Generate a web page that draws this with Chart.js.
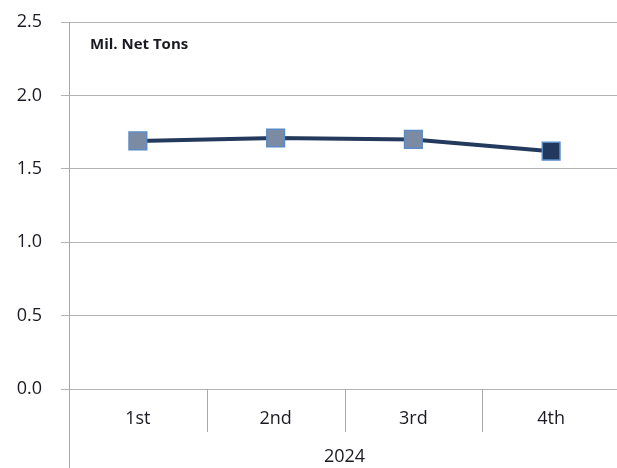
<!DOCTYPE html>
<html>
<head>
<meta charset="utf-8">
<script src="https://cdn.jsdelivr.net/npm/chart.js@4"></script>
<style>
  html, body { margin: 0; padding: 0; background: #fff; overflow: hidden; }
  /* a little wider than the window: chart.js keeps a gap on the right */
  #wrap { width: 634px; height: 468px; position: relative; }
  canvas { display: block; }
</style>
</head>
<body>
<div id="wrap"><canvas id="myChart"></canvas></div>
<script>
const quarters = ['1st', '2nd', '3rd', '4th'];
const yearLabel = '2024';
const tons = [1.69, 1.71, 1.70, 1.62];
const unitLabel = 'Mil. Net Tons';
const pointFills = ['#7b8ba4', '#7b8ba4', '#7b8ba4', '#22385c'];

const ctx = document.getElementById('myChart');
const textColor = '#1a1a22';
const fontFam = '"Open Sans", sans-serif';

// separators under the axis + the long y axis line + unit label
const extras = {
    id: 'extras',
    afterDraw(chart) {
        const c = chart.ctx;
        const area = chart.chartArea;
        c.save();
        c.strokeStyle = '#a9a9a9';
        c.lineWidth = 1;
        c.beginPath();
        c.moveTo(area.left + 0.5, area.top);
        c.lineTo(area.left + 0.5, chart.height);
        const step = (area.right - area.left) / quarters.length;
        for (let i = 1; i < quarters.length; i++) {
            const px = Math.round(area.left + step * i) + 0.5;
            c.moveTo(px, area.bottom);
            c.lineTo(px, area.bottom + 43);
        }
        c.stroke();
        c.fillStyle = textColor;
        c.font = 'bold 15px ' + fontFam;
        c.textBaseline = 'middle';
        c.fillText(unitLabel, area.left + 21, area.top + 23);
        c.restore();
    }
};

new Chart(ctx, {
    type: 'line',
    data: {
        labels: quarters,
        datasets: [{
            label: unitLabel,
            data: tons,
            borderColor: '#233a5c',
            borderWidth: 4,
            tension: 0,
            pointStyle: 'rect',
            pointRadius: 12.5,
            pointHoverRadius: 12.5,
            pointBackgroundColor: pointFills,
            pointBorderColor: '#5b8bc6',
            pointBorderWidth: 1.5
        }]
    },
    options: {
        responsive: true,
        maintainAspectRatio: false,
        animation: false,
        layout: { padding: { top: 22, right: 0, bottom: 0, left: 0 } },
        plugins: {
            legend: { display: false },
            tooltip: { enabled: false }
        },
        scales: {
            x: {
                offset: true,
                grid: { display: false, drawTicks: false },
                border: { display: false },
                ticks: {
                    padding: 19,
                    color: textColor,
                    font: { family: fontFam, size: 18 }
                },
                title: {
                    display: true,
                    text: yearLabel,
                    color: textColor,
                    padding: { top: 10, bottom: 0 },
                    font: { family: fontFam, size: 18 }
                },
                afterFit(scale) {
                    scale.height = 79;
                    scale.paddingLeft = 0;
                    scale.paddingRight = 0;
                }
            },
            y: {
                min: 0,
                max: 2.5,
                ticks: {
                    stepSize: 0.5,
                    padding: 19,
                    color: textColor,
                    font: { family: fontFam, size: 18 },
                    callback: v => v.toFixed(1)
                },
                grid: { color: '#b3b3b3', lineWidth: 1, tickLength: 8 },
                border: { display: true, color: '#a9a9a9' },
                afterFit(scale) {
                    scale.width = 69;
                    scale.paddingTop = 0;
                    scale.paddingBottom = 0;
                }
            }
        }
    },
    plugins: [extras]
});
</script>
</body>
</html>
